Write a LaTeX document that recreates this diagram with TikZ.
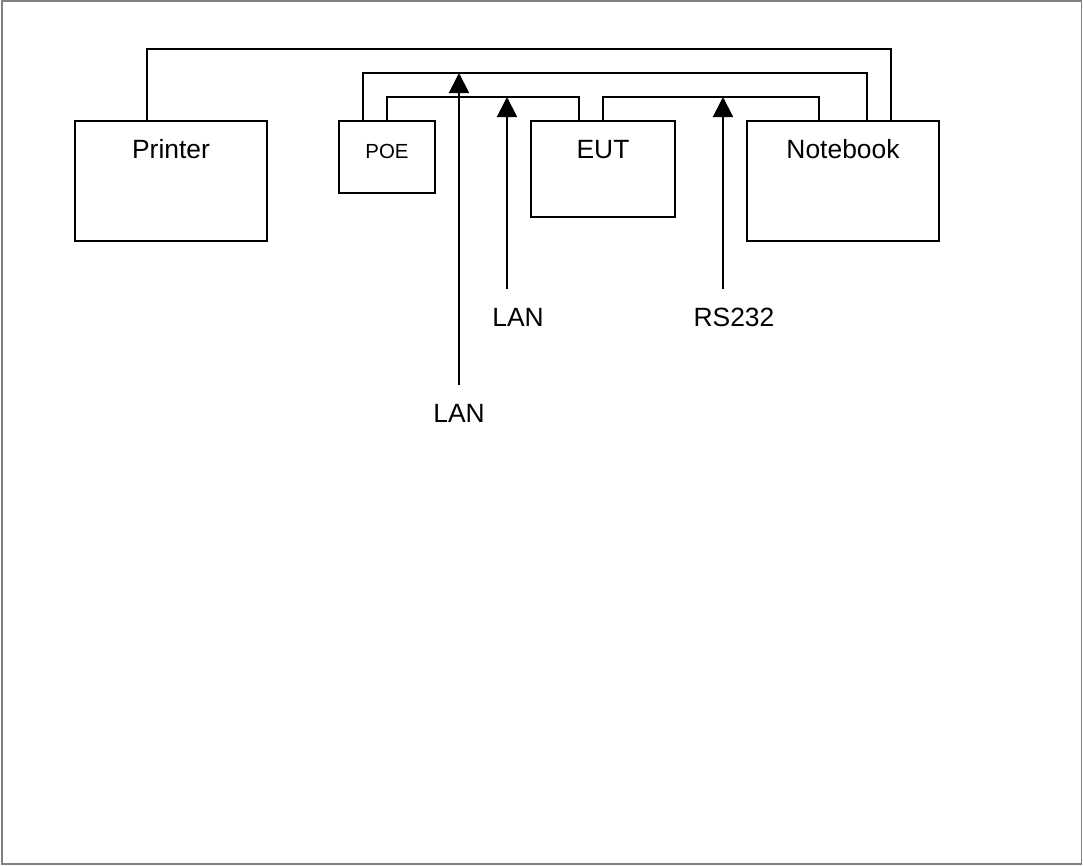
\documentclass[tikz,border=0pt]{standalone}
\usepackage{fontspec}
\setmainfont{Liberation Sans}
\usetikzlibrary{arrows.meta,positioning}

\begin{document}
\begin{tikzpicture}[line width=1.5pt, >={Triangle[width=15pt,length=15pt]},
  box/.style={draw, inner sep=0pt, outer sep=0pt, anchor=north west, text height=27.75pt,
    font=\fontsize{19.8pt}{24pt}\selectfont},
  tag/.style={inner sep=0pt, outer sep=0pt, anchor=north, text height=27.75pt,
    font=\fontsize{19.8pt}{24pt}\selectfont},
  wire/.style={draw, line cap=rect},
  sig/.style={->}]
  \useasboundingbox (0,0) rectangle (812.25pt,-648.75pt);
  \draw[gray, line width=1.1pt] (1.5pt,-0.9pt) rectangle (811.3pt,-647.9pt);
  % devices
  \node[box, minimum width=144pt, minimum height=90pt, text depth=62.25pt] (printer) at (56.25pt,-90.75pt) {Printer};
  \node[box, minimum width=72pt, minimum height=54pt, text depth=26.25pt, font=\fontsize{15.3pt}{18pt}\selectfont,
        below right=0pt and 54pt of printer.north east] (poe) {POE};
  \node[box, minimum width=108pt, minimum height=72pt, text depth=44.25pt,
        below right=0pt and 72pt of poe.north east] (eut) {EUT};
  \node[box, minimum width=144pt, minimum height=90pt, text depth=62.25pt,
        below right=0pt and 54pt of eut.north east] (notebook) {Notebook};
  % cables
  \draw[wire] ([xshift=54pt]printer.north west) -- ++(0,54pt) coordinate (topA) -| ([xshift=108pt]notebook.north west);
  \draw[wire] ([xshift=18pt]poe.north west) -- ++(0,36pt) coordinate (topB) -| ([xshift=90pt]notebook.north west);
  \draw[wire] ([xshift=36pt]poe.north west) -- ++(0,18pt) coordinate (topC) -| ([xshift=36pt]eut.north west);
  \draw[wire] ([xshift=54pt]eut.north west) -- ++(0,18pt) coordinate (topD) -| ([xshift=54pt]notebook.north west);
  % signals
  \node[tag] (lanpoe) at ([xshift=18pt, yshift=-198pt]poe.north east) {LAN};
  \node[tag, xshift=8.25pt] (laneut) at ([xshift=-18pt, yshift=-126pt]eut.north west) {LAN};
  \node[tag, xshift=8.25pt] (serial) at ([xshift=-18pt, yshift=-126pt]notebook.north west) {RS232};
  \draw[sig] (lanpoe.north) -- (lanpoe.north |- topB);
  \draw[sig] ([xshift=-8.25pt]laneut.north) -- ([xshift=-8.25pt]laneut.north |- topC);
  \draw[sig] ([xshift=-8.25pt]serial.north) -- ([xshift=-8.25pt]serial.north |- topD);
\end{tikzpicture}
\end{document}
